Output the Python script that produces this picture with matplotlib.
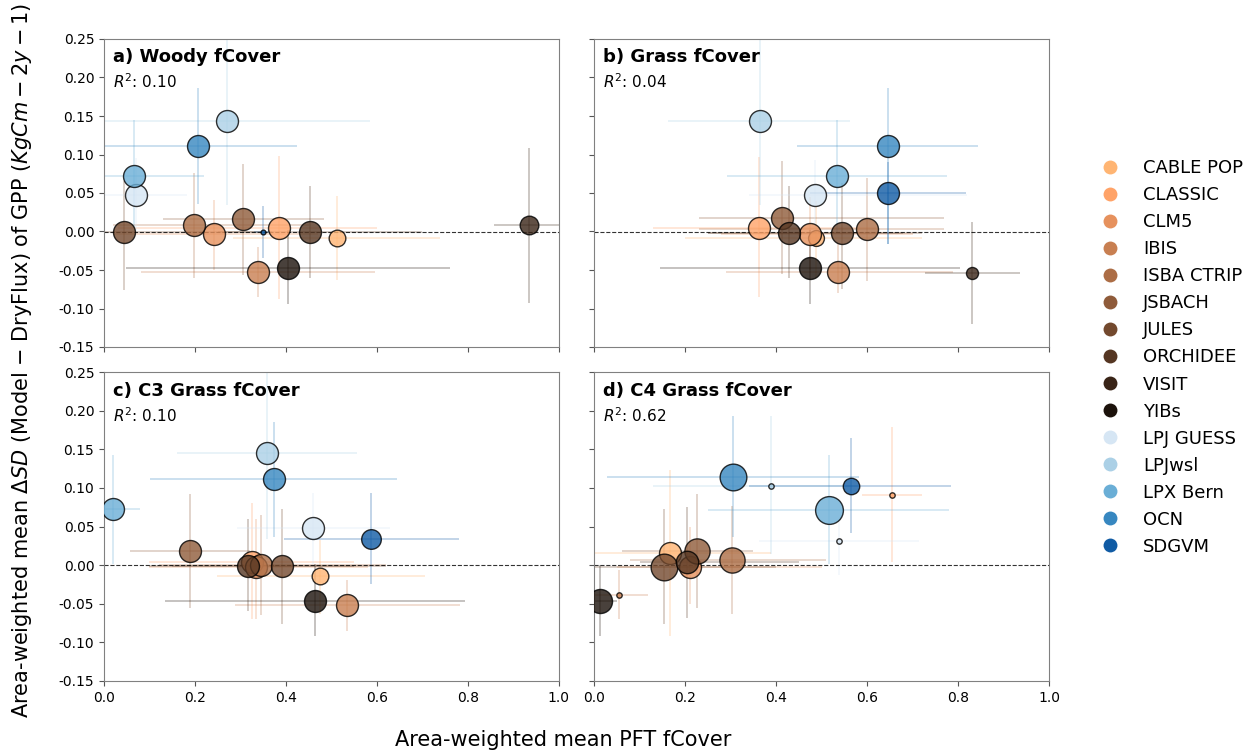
import numpy as np
import matplotlib
matplotlib.use("Agg")
import matplotlib.pyplot as plt
import seaborn as sns
from matplotlib.lines import Line2D

plt.rcParams['font.family'] = ['DejaVu Sans']

models = ["CABLE POP", "CLASSIC", "CLM5", "IBIS", "ISBA CTRIP", "JSBACH", "JULES",
          "ORCHIDEE", "VISIT", "YIBs", "LPJ GUESS", "LPJwsl", "LPX Bern", "OCN", "SDGVM"]

panel_titles = ["a) Woody fCover", "b) Grass fCover", "c) C3 Grass fCover", "d) C4 Grass fCover"]
r2_values = ["0.10", "0.04", "0.10", "0.62"]

nan = np.nan
# ---- panel a: Woody fCover ----
a_x   = [0.512, 0.385, 0.241, 0.338, 0.198, 0.306, 0.044, 0.453, 0.935, 0.404, 0.070, 0.270, 0.067, 0.207, 0.350]
a_y   = [-0.0087, 0.005, -0.0035, -0.0525, 0.0082, 0.016, -0.001, -0.001, 0.008, -0.047, 0.048, 0.144, 0.0724, 0.1115, -0.001]
a_xlo = [0.284, 0.03, 0.02, 0.081, 0.02, 0.129, 0.00, 0.25, 0.858, 0.048, 0.00, 0.00, 0.00, 0.00, 0.33]
a_xhi = [0.739, 0.60, 0.47, 0.596, 0.45, 0.484, 0.35, 0.70, 1.00, 0.760, 0.183, 0.585, 0.22, 0.424, 0.37]
a_ylo = [-0.0625, -0.088, -0.050, -0.085, -0.061, -0.057, -0.076, -0.061, -0.093, -0.094, 0.000, 0.034, 0.006, 0.036, -0.035]
a_yhi = [0.046, 0.098, 0.041, -0.020, 0.076, 0.088, 0.065, 0.059, 0.109, 0.002, 0.095, 0.260, 0.145, 0.186, 0.033]
a_s   = [144, 250, 250, 250, 250, 250, 250, 250, 180, 250, 250, 250, 250, 250, 12]

# ---- panel b: Grass fCover ----
b_x   = [0.489, 0.362, 0.474, 0.537, 0.599, 0.414, 0.544, 0.428, 0.831, 0.474, 0.485, 0.3646, 0.535, 0.646, 0.647]
b_y   = [-0.008, 0.005, -0.0035, -0.0525, 0.003, 0.018, -0.0017, -0.0017, -0.054, -0.047, 0.048, 0.144, 0.0724, 0.111, 0.050]
b_xlo = [0.20, 0.13, 0.28, 0.29, 0.23, 0.23, 0.25, 0.25, 0.727, 0.146, 0.34, 0.163, 0.293, 0.447, 0.474]
b_xhi = [0.72, 0.62, 0.70, 0.788, 0.77, 0.77, 0.72, 0.68, 0.936, 0.804, 0.82, 0.562, 0.776, 0.844, 0.818]
b_ylo = [-0.06, -0.085, -0.05, -0.08, -0.064, -0.055, -0.075, -0.061, -0.12, -0.094, 0.002, 0.034, 0.000, -0.016, -0.016]
b_yhi = [0.04, 0.097, 0.045, -0.015, 0.070, 0.092, 0.063, 0.059, 0.0126, 0.002, 0.093, 0.260, 0.145, 0.186, 0.090]
b_s   = [130, 250, 250, 250, 250, 250, 250, 250, 75, 250, 250, 250, 250, 250, 250]

# ---- panel c: C3 Grass fCover ----
c_x   = [0.476, 0.325, 0.334, 0.535, 0.345, 0.189, 0.391, 0.317, nan, 0.465, 0.460, 0.359, 0.019, 0.374, 0.587]
c_y   = [-0.0147, 0.004, -0.0025, -0.0518, 0.000, 0.018, -0.0017, -0.0017, nan, -0.047, 0.0475, 0.1456, 0.073, 0.111, 0.0335]
c_xlo = [0.249, 0.10, 0.10, 0.288, 0.12, 0.057, 0.15, 0.10, nan, 0.135, 0.293, 0.16, 0.00, 0.101, 0.396]
c_xhi = [0.706, 0.55, 0.58, 0.783, 0.62, 0.32, 0.62, 0.55, nan, 0.794, 0.628, 0.557, 0.079, 0.645, 0.78]
c_ylo = [-0.063, -0.07, -0.07, -0.085, -0.065, -0.055, -0.076, -0.06, nan, -0.092, 0.002, 0.034, 0.002, 0.036, -0.025]
c_yhi = [0.032, 0.08, 0.06, -0.019, 0.065, 0.092, 0.073, 0.06, nan, 0.002, 0.093, 0.260, 0.143, 0.185, 0.093]
c_s   = [144, 250, 250, 250, 250, 250, 250, 250, 0, 250, 250, 250, 250, 250, 200]

# ---- panel d: C4 Grass fCover ----
d_x   = [0.166, 0.655, 0.210, 0.054, 0.304, 0.226, 0.153, 0.205, nan, 0.013, 0.538, 0.389, 0.516, 0.305, 0.564]
d_y   = [0.016, 0.091, -0.003, -0.0385, 0.007, 0.0185, -0.0026, 0.004, nan, -0.046, 0.0315, 0.103, 0.072, 0.114, 0.102]
d_xlo = [0.00, 0.589, 0.05, 0.00, 0.08, 0.062, 0.00, 0.10, nan, 0.00, 0.362, 0.13, 0.251, 0.028, 0.34]
d_xhi = [0.39, 0.721, 0.50, 0.118, 0.51, 0.35, 0.40, 0.45, nan, 0.05, 0.714, 0.58, 0.78, 0.582, 0.785]
d_ylo = [-0.092, 0.004, -0.05, -0.07, -0.063, -0.055, -0.076, -0.068, nan, -0.092, -0.013, 0.015, 0.002, 0.037, 0.041]
d_yhi = [0.123, 0.179, 0.05, -0.006, 0.077, 0.092, 0.073, 0.075, nan, 0.000, 0.056, 0.193, 0.143, 0.193, 0.165]
d_s   = [250, 15, 250, 15, 330, 330, 370, 260, 0, 300, 15, 15, 400, 370, 140]

panels = [
    (a_x, a_y, a_xlo, a_xhi, a_ylo, a_yhi, a_s),
    (b_x, b_y, b_xlo, b_xhi, b_ylo, b_yhi, b_s),
    (c_x, c_y, c_xlo, c_xhi, c_ylo, c_yhi, c_s),
    (d_x, d_y, d_xlo, d_xhi, d_ylo, d_yhi, d_s),
]

colors = list(sns.color_palette("copper_r", 10)) + list(sns.color_palette("Blues", 5))

fig = plt.figure(figsize=(12.53, 7.52), dpi=100)
W, H = 1253, 752
boxes = [(104, 39, 558.7, 347), (594, 39, 1049, 347),
         (104, 372, 558.7, 681), (594, 372, 1049, 681)]

for i, (bx, (px, py, pxlo, pxhi, pylo, pyhi, ps)) in enumerate(zip(boxes, panels)):
    l, t, r, b = bx
    ax = fig.add_axes([l / W, 1 - b / H, (r - l) / W, (b - t) / H])
    for j in range(len(models)):
        if np.isnan(px[j]):
            continue
        ax.errorbar(px[j], py[j],
                    xerr=[[px[j] - pxlo[j]], [pxhi[j] - px[j]]],
                    yerr=[[py[j] - pylo[j]], [pyhi[j] - py[j]]],
                    fmt='none', ecolor=colors[j], alpha=0.3, elinewidth=1.2, zorder=1)
    for j in range(len(models)):
        if np.isnan(px[j]):
            continue
        ax.scatter(px[j], py[j], s=ps[j], color=colors[j], alpha=0.8,
                   edgecolors='black', linewidths=1, zorder=3)
    ax.axhline(0, color='black', linestyle='--', linewidth=0.8, alpha=0.8, zorder=2)
    ax.set_xlim(0, 1)
    ax.set_ylim(-0.15, 0.25)
    ax.set_xticks(np.arange(0, 1.01, 0.2))
    ax.set_yticks(np.arange(-0.15, 0.251, 0.05))
    ax.tick_params(labelsize=10, color='#555555')
    if i in (0, 1):
        ax.set_xticklabels([])
    if i in (1, 3):
        ax.set_yticklabels([])
    else:
        ax.set_yticklabels([f"{v:.2f}" for v in np.arange(-0.15, 0.251, 0.05)])
    for sp in ax.spines.values():
        sp.set_color('#808080')
    ax.text(0.02, 0.94, panel_titles[i], transform=ax.transAxes, fontsize=13,
            fontweight='bold', va='center', ha='left')
    ax.text(0.02, 0.86, r"$R^2$: " + r2_values[i], transform=ax.transAxes,
            fontsize=11, va='center', ha='left')

fig.text(563 / W, 1 - 740 / H, "Area-weighted mean PFT fCover", fontsize=15,
         ha='center', va='center')
fig.text(22 / W, 1 - 360 / H,
         r"Area-weighted mean $\Delta SD$ (Model $-$ DryFlux) of GPP ($KgCm-2y-1$)",
         fontsize=15, rotation=90, ha='center', va='center')

handles = [Line2D([0], [0], marker='o', linestyle='none', markersize=10,
                  markerfacecolor=colors[j], markeredgecolor='none')
           for j in range(len(models))]
fig.legend(handles, models, loc='center left', bbox_to_anchor=(1085 / W, 1 - 357.5 / H),
           frameon=False, fontsize=13, labelspacing=0.5, handletextpad=0.8,
           borderaxespad=0)

fig.savefig("out.png", dpi=100)
